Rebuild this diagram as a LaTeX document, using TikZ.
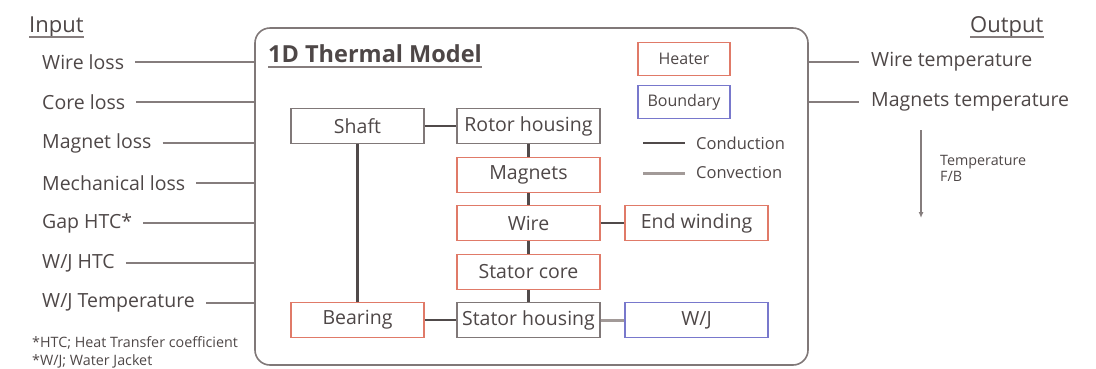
\documentclass[tikz,border=0pt]{standalone}
\usepackage{fontspec}
\setmainfont{Open Sans}
\usetikzlibrary{arrows.meta}
\definecolor{txt}{HTML}{4E4747}
\definecolor{frame}{HTML}{807878}
\definecolor{heat}{HTML}{E07A68}
\definecolor{bnd}{HTML}{7878CC}
\definecolor{cond}{HTML}{504A4A}
\definecolor{conv}{HTML}{A29A98}
\definecolor{inl}{HTML}{857D7D}
\begin{document}
\begin{tikzpicture}[x=1pt,y=-1pt,
  every node/.style={text=txt},
  lbl/.style={anchor=west,inner sep=0pt,font=\fontsize{19.5}{22}\selectfont},
  hdr/.style={anchor=base west,inner sep=0pt,font=\fontsize{22}{24}\selectfont},
  blk/.style={draw,line width=1.3pt,minimum width=143pt,minimum height=35pt,inner sep=0pt,font=\fontsize{19.5}{22}\selectfont},
  plain/.style={blk,draw=frame},
  heater/.style={blk,draw=heat},
  bound/.style={blk,draw=bnd},
  lgd/.style={draw,line width=1.3pt,minimum width=92pt,minimum height=33pt,inner sep=0pt,font=\fontsize{16}{18}\selectfont},
  conduct/.style={draw=cond,line width=2.8pt},
  convect/.style={draw=conv,line width=3pt},
  inline/.style={draw=inl,line width=1.3pt},
  uline/.style={draw=inl,line width=1.6pt},
  small/.style={anchor=west,inner sep=0pt}
]
\useasboundingbox (0,0) rectangle (1096,368);

% main frame
\node[draw=frame,line width=1.6pt,rounded corners=15pt,minimum width=553pt,minimum height=337pt,inner sep=0pt] (model) at (531.5,196.5) {};
\node[anchor=base west,inner sep=0pt,font=\fontsize{23.5}{26}\selectfont\bfseries] (title) at (268,62) {1D Thermal Model};
\draw[uline] ([yshift=-5pt]title.base west) -- ([yshift=-5pt]title.base east);

% inputs
\node[hdr] (inp) at (29,32) {Input};
\draw[uline] ([yshift=-5pt]inp.base west) -- ([yshift=-5pt]inp.base east);
\node[lbl] (wl) at (42,62) {Wire loss};
\node[lbl] (cl) at (42,102) {Core loss};
\node[lbl] (ml) at (42,143) {Magnet loss};
\node[lbl] (mcl) at (42,183) {Mechanical loss};
\node[lbl] (gap) at (42,223) {Gap HTC*};
\node[lbl] (wjh) at (42,263) {W/J HTC};
\node[lbl] (wjt) at (42,303) {W/J Temperature};
\foreach \n in {wl,cl,ml,mcl,gap,wjh,wjt}
  \draw[inline] ([xshift=11pt]\n.east) -- (\n.east -| model.west);
\node[small,align=left,font=\fontsize{14.3}{18}\selectfont] (fn) at (32,352) {*HTC; Heat Transfer coefficient\\*W/J; Water Jacket};

% outputs
\node[hdr] (outp) at (970,32) {Output};
\draw[uline] ([yshift=-5pt]outp.base west) -- ([yshift=-5pt]outp.base east);
\node[lbl] (wt) at (871,62) {Wire temperature};
\node[lbl] (mt) at (871,102) {Magnets temperature};
\foreach \n in {wt,mt}
  \draw[inline] (\n.west -| model.east) -- ([xshift=-12pt]\n.west);
\coordinate (fbtop) at (921,130);
\coordinate (fbbot) at (921,218);
\draw[draw=inl,line width=1.3pt,-{Latex[length=6pt,width=5pt]}] (fbtop) -- (fbbot);
\node[small,align=left,font=\fontsize{14.3}{16}\selectfont] (fb) at (940,168) {Temperature\\F/B};

% legend
\node[lgd,draw=heat] (lh) at (684,59) {Heater};
\node[lgd,draw=bnd] (lb) at (684,102) {Boundary};
\coordinate (c1) at (643,143);
\coordinate (c2) at (685,143);
\coordinate (v1) at (643,173);
\coordinate (v2) at (685,173);
\draw[conduct] (c1) -- (c2);
\draw[convect] (v1) -- (v2);
\node[anchor=west,inner sep=0pt,font=\fontsize{16.5}{18}\selectfont] (lc) at (696,143) {Conduction};
\node[anchor=west,inner sep=0pt,font=\fontsize{16.5}{18}\selectfont] (lv) at (696,173) {Convection};

% blocks
\node[plain,minimum width=133pt] (shaft) at (357.5,126) {Shaft};
\node[plain] (rotor) at (528.5,126) {Rotor housing};
\node[heater] (mag) at (528.5,175) {Magnets};
\node[heater] (wire) at (528.5,223) {Wire};
\node[heater] (endw) at (696.5,223) {End winding};
\node[heater] (score) at (528.5,272) {Stator core};
\node[plain] (shous) at (528.5,320) {Stator housing};
\node[heater,minimum width=133pt] (bear) at (357.5,320) {Bearing};
\node[bound] (wj) at (696.5,320) {W/J};

% connectors
\draw[conduct] (shaft) -- (rotor);
\draw[conduct] (shaft) -- (bear);
\draw[conduct] (rotor) -- (mag);
\draw[conduct] (mag) -- (wire);
\draw[conduct] (wire) -- (endw);
\draw[conduct] (wire) -- (score);
\draw[conduct] (score) -- (shous);
\draw[conduct] (bear) -- (shous);
\draw[convect] (shous) -- (wj);
\end{tikzpicture}
\end{document}
